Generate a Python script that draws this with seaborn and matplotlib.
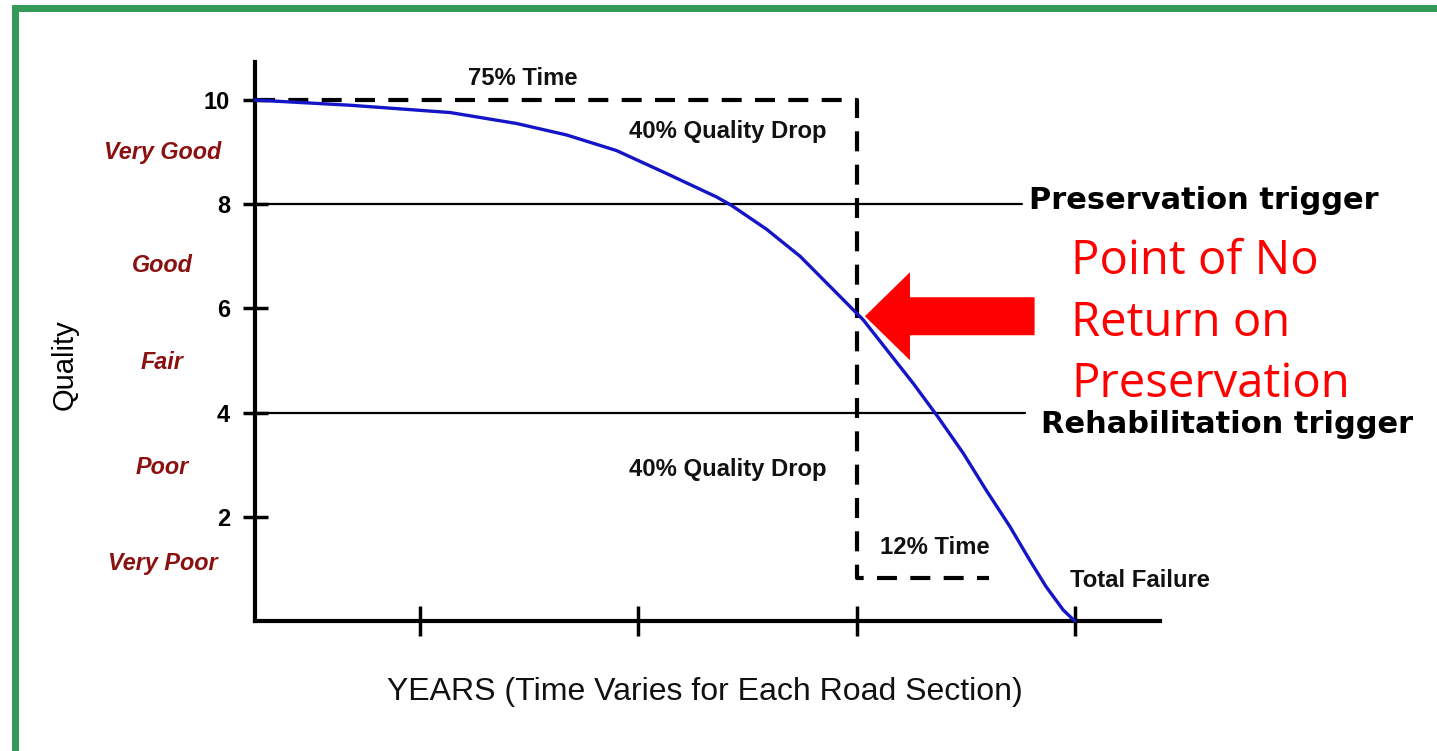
import matplotlib
matplotlib.use("Agg")
import matplotlib.pyplot as plt
import seaborn as sns
import pandas as pd
from matplotlib.lines import Line2D
from matplotlib.patches import FancyArrow

# pavement condition curve
# x = share of the section's life (%), y = quality (0-10)
life_pct = [0, 11.6, 23.8, 31.9, 38.0, 44.1, 50.2, 56.3, 58.1, 62.4, 66.5,
            71.3, 74.2, 77.4, 80.3, 83.3, 86.4, 89.2, 92.1, 94.5, 96.5, 98.6, 100]
quality = [10, 9.90, 9.76, 9.55, 9.33, 9.03, 8.59, 8.14, 7.98, 7.52, 7.0,
           6.24, 5.78, 5.14, 4.56, 3.92, 3.22, 2.51, 1.81, 1.17, 0.66, 0.21, 0]

quality_ticks = [2, 4, 6, 8, 10]
year_ticks = [20.1, 46.7, 73.4, 100]

condition_names = ["Very Good", "Good", "Fair", "Poor", "Very Poor"]
condition_levels = [9.0, 6.83, 4.97, 2.94, 1.11]

# 75% time / 12% time dashed guide
guide_x = [0, 73.4, 73.4, 89.6]
guide_y = [10, 10, 0.83, 0.83]

trigger_levels = [8, 4]
trigger_ends = [93.6, 93.9]
trigger_names = ["Preservation trigger", "Rehabilitation trigger"]

df = pd.DataFrame({"life": life_pct, "quality": quality})

sns.set_theme(style="white")
plt.rcParams["font.family"] = ["Liberation Sans", "DejaVu Sans"]

W, H = 1437, 751
fig = plt.figure(figsize=(W / 100, H / 100), dpi=100)
ax = fig.add_axes([255 / W, 1 - 621 / H, 905 / W, 559 / H])

sns.lineplot(data=df, x="life", y="quality", ax=ax, color="#1515c8",
             lw=2.4, estimator=None, sort=False, clip_on=False, zorder=5)

ax.plot(guide_x, guide_y, color="black", lw=3, dashes=(4.8, 3.2), zorder=3)

for lvl, end in zip(trigger_levels, trigger_ends):
    ax.plot([0, end], [lvl, lvl], color="black", lw=1.6, clip_on=False, zorder=2)

ax.set_xlim(0, 110.4)
ax.set_ylim(0, 10.73)
ax.set_yticks(quality_ticks)
ax.set_xticks(year_ticks, labels=[])
ax.tick_params(axis="y", left=True, direction="inout", length=18, width=2.5,
               pad=9, labelsize=17, colors="black")
ax.tick_params(axis="x", bottom=True, direction="inout", length=21, width=2.5,
               colors="black")
for lbl in ax.get_yticklabels():
    lbl.set_fontweight("bold")

for side in ["top", "right"]:
    ax.spines[side].set_visible(False)
for side in ["left", "bottom"]:
    ax.spines[side].set_linewidth(3)
    ax.spines[side].set_color("black")

ax.set_ylabel("Quality", fontsize=21, va="center", color="black")
ax.yaxis.set_label_coords(-0.21, 0.458)
ax.set_xlabel("YEARS (Time Varies for Each Road Section)", fontsize=23,
              va="center", color="#111111")
ax.xaxis.set_label_coords(0.497, -0.127)

for name, lvl in zip(condition_names, condition_levels):
    ax.text(-11.3, lvl, name, ha="center", va="center", color="#8b1010",
            fontsize=16.8, fontweight="bold", style="italic")

bold = dict(fontsize=17.2, fontweight="bold", color="#111111", ha="center", va="center")
ax.text(32.7, 10.42, "75% Time", **bold)
ax.text(57.7, 9.4, "40% Quality Drop", **bold)
ax.text(57.7, 2.9, "40% Quality Drop", **bold)
ax.text(82.9, 1.42, "12% Time", **bold)
ax.text(107.9, 0.77, "Total Failure", **bold)

# triggers and the point of no return (slide annotations)
ax.text(94.4, 8.08, trigger_names[0], fontsize=22, fontweight="bold",
        family="DejaVu Sans", va="center", ha="left", color="black")
ax.text(95.9, 3.78, trigger_names[1], fontsize=22, fontweight="bold",
        family="DejaVu Sans", va="center", ha="left", color="black")

ax.add_patch(FancyArrow(95.1, 5.85, -20.7, 0, width=0.73, head_width=1.69,
                        head_length=5.5, length_includes_head=True,
                        color="red", lw=0, clip_on=False, zorder=6))
ax.text(99.6, 5.72, "Point of No\nReturn on\nPreservation", color="red",
        fontsize=34, family="Open Sans", va="center", ha="left", linespacing=1.38)

# green frame
green = "#339957"
fig.add_artist(Line2D([12 / W, 1], [1 - 8 / H] * 2, transform=fig.transFigure,
                      color=green, lw=5, solid_capstyle="butt"))
fig.add_artist(Line2D([15.5 / W] * 2, [0, 1 - 5 / H], transform=fig.transFigure,
                      color=green, lw=5, solid_capstyle="butt"))

fig.savefig("out.png", dpi=100)
